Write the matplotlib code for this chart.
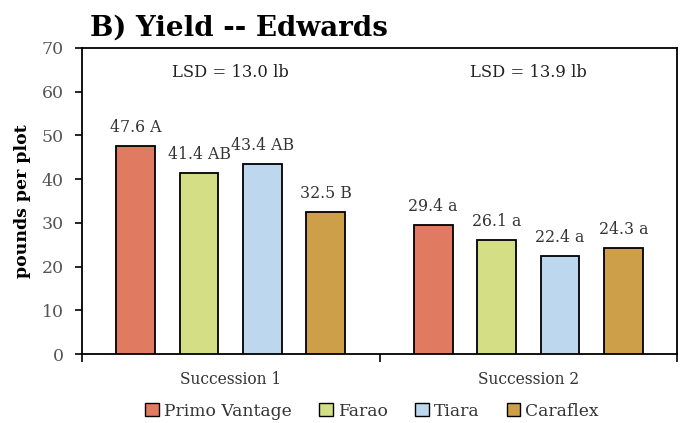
import matplotlib.pyplot as plt
import numpy as np
from matplotlib.patches import Patch

# data
groups = ["Succession 1", "Succession 2"]
varieties = ["Primo Vantage", "Farao", "Tiara", "Caraflex"]
succ1 = [47.6, 41.4, 43.4, 32.5]
succ2 = [29.4, 26.1, 22.4, 24.3]
letters1 = ["A", "AB", "AB", "B"]
letters2 = ["a", "a", "a", "a"]
lsd_text = ["LSD = 13.0 lb", "LSD = 13.9 lb"]
colors = ["#E07B61", "#D4DE84", "#BDD7EE", "#CC9F48"]

plt.rcParams["font.family"] = ["DejaVu Serif"]

fig = plt.figure(figsize=(6.84, 4.23), dpi=100)
ax = fig.add_axes([82 / 684, 1 - 354 / 423, (677 - 82) / 684, (354 - 48) / 423])

values = np.array([succ1, succ2])
letters = [letters1, letters2]
x = np.arange(len(groups))
pitch = 0.2134
width = 0.131

for i, name in enumerate(varieties):
    xs = x + (i - 1.5) * pitch
    ax.bar(xs, values[:, i], width, color=colors[i], edgecolor="black",
           linewidth=1.3, label=name, zorder=3)
    for g in range(len(groups)):
        ax.text(xs[g], values[g, i] + 2.3, f"{values[g, i]:.1f} {letters[g][i]}",
                ha="center", va="bottom", fontsize=11.3, color="#333333")

for g in range(len(groups)):
    ax.text(x[g], 64.5, lsd_text[g], ha="center", va="center",
            fontsize=11.8, color="#222222")

ax.set_xlim(-0.5, 1.5)
ax.set_ylim(0, 70)
ax.set_yticks(range(0, 71, 10))
ax.tick_params(axis="y", labelsize=12.5, labelcolor="#555555", length=5,
               width=1.2, direction="out", pad=8)
ax.set_xticks([-0.5, 0.5, 1.5])
ax.set_xticklabels([])
ax.tick_params(axis="x", length=6, width=1.2, direction="out")
for g in range(len(groups)):
    ax.text(x[g], -5.8, groups[g], ha="center", va="center", fontsize=11.2,
            color="#333333")
for s in ax.spines.values():
    s.set_linewidth(1.3)

ax.set_ylabel("pounds per plot", fontsize=12.5, fontweight="bold", labelpad=8)
fig.text(90 / 684, 1 - 28 / 423, "B) Yield -- Edwards", fontsize=20,
         fontweight="bold", ha="left", va="center")

handles = [Patch(facecolor=c, edgecolor="black", linewidth=1) for c in colors]
fig.legend(handles, varieties, loc="center", bbox_to_anchor=(372 / 684, 1 - 411 / 423),
           ncol=4, frameon=False, fontsize=12.3, handlelength=0.8, handleheight=0.8,
           handletextpad=0.3, columnspacing=1.6, labelcolor="#333333")

fig.savefig("out.png", dpi=100)
